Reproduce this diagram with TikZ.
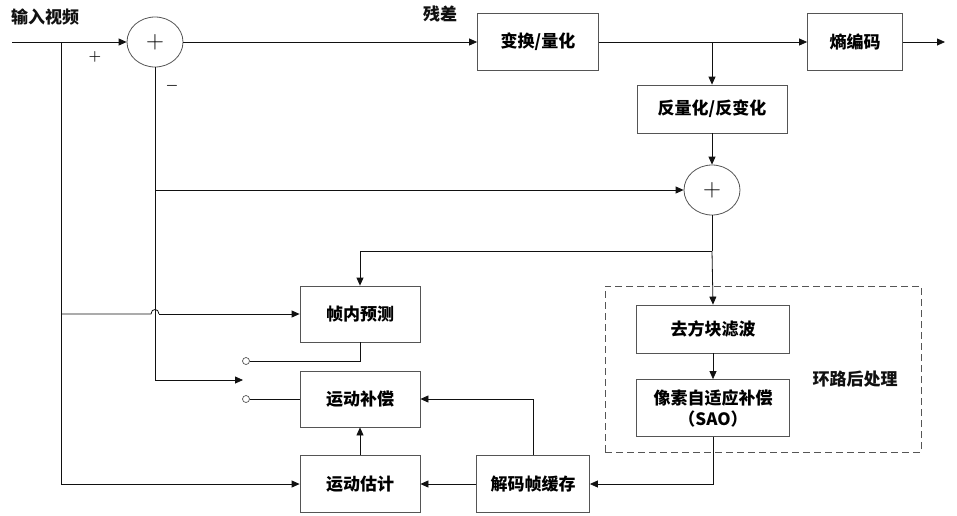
\documentclass[tikz,border=0pt]{standalone}
\usepackage{fontspec}
\usepackage{xcolor}
\usepackage{tikz}
\usetikzlibrary{shapes.geometric, arrows.meta, positioning, calc}
\newfontfamily\cjk{Noto Sans CJK SC}
\definecolor{inkdark}{HTML}{111111}
\definecolor{boxgray}{HTML}{555555}
\tikzset{
  lbl/.style={font=\cjk\bfseries\fontsize{17}{20}\selectfont, text=inkdark, inner sep=0pt},
  note/.style={font=\boldmath\fontsize{15}{15}\selectfont, text=inkdark, inner sep=0pt},
  blk/.style={draw=boxgray, line width=0.8pt, fill=white, align=center,
              font=\cjk\bfseries\fontsize{17}{21}\selectfont, inner sep=2pt},
  sumnode/.style={draw=boxgray, line width=0.8pt, ellipse, minimum width=56pt,
                  minimum height=50pt, inner sep=0pt,
                  font=\fontsize{26}{26}\selectfont},
  swpt/.style={draw=boxgray, circle, line width=0.7pt, minimum size=7pt,
               inner sep=0pt, fill=white},
  flow/.style={-{Triangle[length=8pt,width=7pt]}, line width=0.8pt, color=inkdark},
  wire/.style={line width=0.8pt, color=inkdark},
}
\begin{document}
\begin{tikzpicture}[x=1pt, y=-1pt,
  wide/.style={blk, minimum width=#1pt}]
  \useasboundingbox (0,0) rectangle (957,515);
  % labels
  \node[lbl] (input) at (45,17) {输入视频};
  \node[lbl] (resid) at (440,14) {残差};
  \node[note] (plus) at (95,57) {$+$};
  \node[note] (minus) at (172,86) {$-$};
  % forward path
  \coordinate (in) at (12,42);
  \coordinate (split) at (61,42);
  \node[sumnode] (s1) at (155,42) {$+$};
  \node[wide=121, minimum height=57pt] (tq) at (538,42) {变换/量化};
  \node[wide=95, minimum height=57pt] (ec) at (855,42) {熵编码};
  \coordinate (out) at (945,42);
  \coordinate (tqj) at (712,42);
  \node[wide=150, minimum height=48pt] (iq) at (712,109) {反量化/反变化};
  \node[sumnode] (s2) at (712,190) {$+$};
  \coordinate (s2j) at (712,251);
  % loop filter
  \node[draw=boxgray, dash pattern=on 7pt off 4pt, line width=0.8pt, minimum width=316pt,
        minimum height=166pt, inner sep=0pt] (loop) at (763,369) {};
  \node[lbl] (looplbl) at (855,379) {环路后处理};
  \node[wide=153, minimum height=48pt] (dbk) at (713,329) {去方块滤波};
  \node[wide=153, minimum height=57pt] (sao) at (713,408) {像素自适应补偿\\（SAO）};
  % prediction
  \node[wide=120, minimum height=56pt] (intra) at (360,314) {帧内预测};
  \node[wide=120, minimum height=56pt] (mc) at (360,399) {运动补偿};
  \node[wide=120, minimum height=57pt] (me) at (360,484) {运动估计};
  \node[wide=113, minimum height=57pt] (dpb) at (533,484) {解码帧缓存};
  \node[swpt] (swa) at (246,361) {};
  \node[swpt] (swb) at (246,399) {};
  \coordinate (swtip) at (243,380);
  \coordinate (hopl) at (151,314);
  \coordinate (hopr) at (159,314);

  \draw[flow] (in) -- (s1.west);
  \draw[flow] (split) |- (me.west);
  \draw[wire] (split |- intra) -- (hopl) .. controls (151,308) and (159,308) .. (hopr);
  \draw[flow] (hopr) -- (intra.west);
  \draw[flow] (s1.east) -- (tq.west);
  \draw[flow] (tq.east) -- (ec.west);
  \draw[flow] (ec.east) -- (out);
  \draw[flow] (tqj) -- (iq.north);
  \draw[flow] (iq.south) -- (s2.north);
  \draw[flow] (s1.south) |- (swtip);
  \draw[flow] (s1 |- s2) -- (s2.west);
  \draw[wire] (s2.south) -- (s2j);
  \draw[flow] (s2j) -| (intra.north);
  \draw[flow] (s2j) -- (dbk.north);
  \draw[flow] (dbk.south) -- (sao.north);
  \draw[flow] (sao.south) |- (dpb.east);
  \draw[flow] (dpb.west) -- (me.east);
  \draw[flow] (me.north) -- (mc.south);
  \draw[flow] (dpb.north) |- (mc.east);
  \draw[wire] (intra.south) |- (swa.east);
  \draw[wire] (mc.west) -- (swb.east);
\end{tikzpicture}
\end{document}
